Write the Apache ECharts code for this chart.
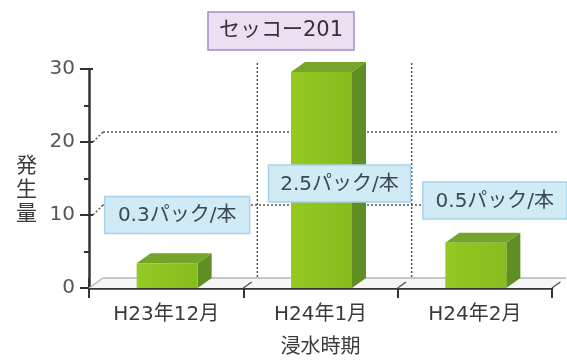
<!DOCTYPE html>
<html><head><meta charset="utf-8">
<script src="https://cdn.jsdelivr.net/npm/echarts@6/dist/echarts.min.js"></script>
<style>html,body{margin:0;padding:0;background:#fff}#c{width:567px;height:360px}</style>
</head><body><div id="c"></div>
<script>
const categories = ['H23年12月', 'H24年1月', 'H24年2月'];
const values = [3.4, 29.6, 6.2];
const ratioLabels = ['0.3パック/本', '2.5パック/本', '0.5パック/本'];
const ratioLabelLevels = [10, 14.3, 12];
const yTicks = [0, 10, 20, 30];
const productName = 'セッコー201';
const yName = '発生量';
const xName = '浸水時期';

const FONT = '"DejaVu Sans", "Noto Sans CJK JP", sans-serif';
const DX = 14, DY = -10;          // pseudo-3D depth offset
const BAR_W = 61;
const BOX_DX = [11, 19, 20];
const BOX_W = [145, 142, 144];
const BOX_H = 37;
const yMin = yTicks[0], yMax = yTicks[yTicks.length - 1], yStep = yTicks[1] - yTicks[0];

const chart = echarts.init(document.getElementById('c'), null, {renderer: 'canvas'});

function wallItem(params, api) {
  const bw = api.size([1, 0])[0];
  const c0 = api.coord([0, yMin]);
  const left = c0[0] - bw / 2;
  const right = left + bw * categories.length;
  const y0 = c0[1];
  const yTop = api.coord([0, yMax])[1];
  const dotted = {stroke: '#555', lineWidth: 1.5, lineDash: [2, 2], fill: null};
  const ch = [];
  ch.push({type: 'polygon', shape: {points: [[left, y0], [left + DX, y0 + DY], [right + DX, y0 + DY], [right, y0]]},
    style: {fill: '#f6f6f6', stroke: null}});
  ch.push({type: 'line', shape: {x1: left + DX, y1: y0 + DY, x2: right + DX, y2: y0 + DY}, style: {stroke: '#b5b5b5', lineWidth: 1.5}});
  ch.push({type: 'line', shape: {x1: left, y1: y0, x2: left + DX, y2: y0 + DY}, style: {stroke: '#b5b5b5', lineWidth: 1.5}});
  for (let k = 1; k <= categories.length; k++) {
    const x = left + bw * k;
    ch.push({type: 'line', shape: {x1: x, y1: y0, x2: x + DX * 0.6, y2: y0 + DY * 0.6}, style: {stroke: '#555', lineWidth: 1.5}});
  }
  yTicks.filter(v => v > yMin && v < yMax).forEach(v => {
    const y = api.coord([0, v])[1];
    ch.push({type: 'line', shape: {x1: left + 4, y1: y, x2: left + DX, y2: y + DY}, style: dotted});
    ch.push({type: 'line', shape: {x1: left + DX, y1: y + DY, x2: right + DX - 8, y2: y + DY}, style: dotted});
  });
  for (let k = 1; k < categories.length; k++) {
    const x = left + bw * k + DX;
    ch.push({type: 'line', shape: {x1: x, y1: yTop + DY + 4, x2: x, y2: y0 + DY}, style: dotted});
  }
  return {type: 'group', children: ch};
}

function barItem(params, api) {
  const i = api.value(0), v = api.value(1);
  const pb = api.coord([i, yMin]);
  const pt = api.coord([i, v]);
  const xl = pb[0] + 1 - BAR_W / 2, xr = pb[0] + 1 + BAR_W / 2;
  const yb = pb[1], yt = pt[1];
  return {type: 'group', children: [
    {type: 'polygon', shape: {points: [[xr, yt], [xr + DX, yt + DY], [xr + DX, yb + DY], [xr, yb]]},
      style: {fill: '#5f8e22'}},
    {type: 'polygon', shape: {points: [[xl, yt], [xl + DX, yt + DY], [xr + DX, yt + DY], [xr, yt]]},
      style: {fill: '#74a52a'}},
    {type: 'rect', shape: {x: xl, y: yt, width: BAR_W, height: yb - yt},
      style: {fill: new echarts.graphic.LinearGradient(0, 0, 1, 0, [{offset: 0, color: '#95c923'}, {offset: 1, color: '#86bc1d'}])}}
  ]};
}

function boxItem(params, api) {
  const idx = params.dataIndex;
  const p = api.coord([api.value(0), api.value(1)]);
  const cx = p[0] + BOX_DX[idx], cy = p[1];
  const w = BOX_W[idx];
  return {type: 'group', children: [
    {type: 'rect', shape: {x: cx - w / 2, y: cy - BOX_H / 2, width: w, height: BOX_H},
      style: {fill: '#d0eaf6', stroke: '#a6d3ea', lineWidth: 1.5}},
    {type: 'text', style: {text: ratioLabels[idx], x: cx, y: cy + 1, align: 'center', verticalAlign: 'middle',
      fill: '#3a4754', font: '20px ' + FONT}}
  ]};
}

chart.setOption({
  animation: false,
  backgroundColor: '#fff',
  title: {
    text: productName, left: 208, top: 12,
    backgroundColor: '#ebdff2', borderColor: '#a48cc4', borderWidth: 1.5, padding: [6, 11],
    textStyle: {fontFamily: FONT, fontSize: 21, fontWeight: 'normal', color: '#333', lineHeight: 26}
  },
  grid: {left: 89, right: 15, top: 69, bottom: 72, containLabel: false, outerBoundsMode: 'none'},
  xAxis: [{
    type: 'category', data: categories, boundaryGap: true,
    name: xName, nameLocation: 'middle', nameGap: 50,
    nameTextStyle: {fontFamily: FONT, fontSize: 20, color: '#3a3a3a'},
    axisLine: {show: true, lineStyle: {color: '#333', width: 2.5}},
    axisTick: {show: true, length: 10, lineStyle: {color: '#333', width: 2}},
    axisLabel: {fontFamily: FONT, fontSize: 20, color: '#3a3a3a', margin: 17},
    splitLine: {show: false}
  }, {
    type: 'category', data: categories, boundaryGap: true, position: 'bottom',
    axisLine: {show: false}, axisLabel: {show: false},
    axisTick: {show: true, inside: true, length: 10, lineStyle: {color: '#333', width: 2}},
    splitLine: {show: false}
  }],
  yAxis: [{
    type: 'value', min: yMin, max: yMax, interval: yStep,
    name: '\n' + yName.split('').join('\n'), nameLocation: 'middle', nameGap: 52, nameRotate: 0,
    nameTextStyle: {fontFamily: FONT, fontSize: 21, color: '#3a3a3a', lineHeight: 24},
    axisLine: {show: true, lineStyle: {color: '#333', width: 2.5}},
    axisTick: {show: true, length: 9, lineStyle: {color: '#333', width: 2}},
    minorTick: {show: true, splitNumber: 2, length: 5, lineStyle: {color: '#333', width: 2}},
    axisLabel: {fontFamily: FONT, fontSize: 20, color: '#555', margin: 14},
    splitLine: {show: false}
  }, {
    type: 'value', min: yMin, max: yMax, interval: yStep, position: 'left', offset: 0,
    axisLine: {show: false}, axisLabel: {show: false},
    axisTick: {show: true, inside: true, length: 4, lineStyle: {color: '#333', width: 2}},
    splitLine: {show: false}
  }],
  series: [{
    type: 'custom', xAxisIndex: 0, yAxisIndex: 0, z: 1, silent: true,
    renderItem: wallItem, data: [[0, 0]]
  }, {
    type: 'custom', xAxisIndex: 0, yAxisIndex: 0, z: 2,
    renderItem: barItem, data: values.map((v, i) => [i, v])
  }, {
    type: 'custom', xAxisIndex: 0, yAxisIndex: 0, z: 3,
    renderItem: boxItem, data: ratioLabelLevels.map((v, i) => [i, v])
  }]
});
</script>
</body></html>
